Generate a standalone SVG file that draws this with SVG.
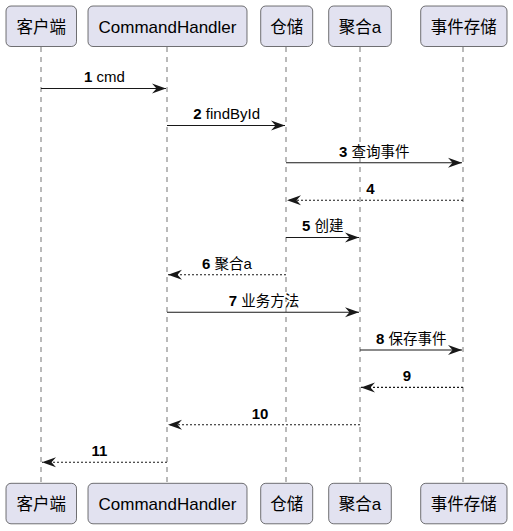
<svg xmlns="http://www.w3.org/2000/svg" width="513" height="531" viewBox="0 0 513 531">
<style>
.bg{fill:#FFFFFF}
.box{fill:#E2E2F0;stroke:#181818;stroke-width:0.6}
.life{stroke:#181818;stroke-width:0.6;stroke-dasharray:5,5;fill:none}
.pt{font-family:"Liberation Sans","Noto Sans CJK SC",sans-serif;font-size:17px;fill:#000;text-anchor:middle}
.cjk{font-family:"Noto Sans CJK SC",sans-serif;font-size:16.5px}
.msg{stroke:#181818;stroke-width:1.1;fill:none}
.ret{stroke:#181818;stroke-width:1.1;fill:none;stroke-dasharray:2,2}
.lbl{font-family:"Liberation Sans","Noto Sans CJK SC",sans-serif;font-size:15px;fill:#000;text-anchor:middle}
.lbl .n{font-weight:bold}
.lbl .c{font-family:"Noto Sans CJK SC",sans-serif;font-size:14.5px}
</style>
<defs>
<marker id="ah" markerWidth="16" markerHeight="12" refX="14" refY="6" orient="auto" markerUnits="userSpaceOnUse">
<polygon points="0,1 14,6 0,11 4.5,6" fill="#181818"/>
</marker>
</defs>
<rect class="bg" x="0" y="0" width="513" height="531"/>

<g id="lifelines">
<line class="life" x1="41" y1="47" x2="41" y2="483"/>
<line class="life" x1="167" y1="47" x2="167" y2="483"/>
<line class="life" x1="286" y1="47" x2="286" y2="483"/>
<line class="life" x1="360" y1="47" x2="360" y2="483"/>
<line class="life" x1="463" y1="47" x2="463" y2="483"/>
</g>

<g id="p-client">
<rect class="box" x="6" y="6" width="70.5" height="40.5" rx="5"/>
<text class="pt" x="41.2" y="33"><tspan class="cjk">客户端</tspan></text>
<rect class="box" x="6" y="483.3" width="70.5" height="40.5" rx="5"/>
<text class="pt" x="41.2" y="510.3"><tspan class="cjk">客户端</tspan></text>
</g>
<g id="p-handler">
<rect class="box" x="88" y="6" width="159" height="40.5" rx="5"/>
<text class="pt" x="167.5" y="33">CommandHandler</text>
<rect class="box" x="88" y="483.3" width="159" height="40.5" rx="5"/>
<text class="pt" x="167.5" y="510.3">CommandHandler</text>
</g>
<g id="p-repo">
<rect class="box" x="260.7" y="6" width="52" height="40.5" rx="5"/>
<text class="pt" x="286.7" y="33"><tspan class="cjk">仓储</tspan></text>
<rect class="box" x="260.7" y="483.3" width="52" height="40.5" rx="5"/>
<text class="pt" x="286.7" y="510.3"><tspan class="cjk">仓储</tspan></text>
</g>
<g id="p-agg">
<rect class="box" x="328.7" y="6" width="62.6" height="40.5" rx="5"/>
<text class="pt" x="360" y="33"><tspan class="cjk">聚合</tspan>a</text>
<rect class="box" x="328.7" y="483.3" width="62.6" height="40.5" rx="5"/>
<text class="pt" x="360" y="510.3"><tspan class="cjk">聚合</tspan>a</text>
</g>
<g id="p-store">
<rect class="box" x="420.7" y="6" width="86.3" height="40.5" rx="5"/>
<text class="pt" x="463.8" y="33"><tspan class="cjk">事件存储</tspan></text>
<rect class="box" x="420.7" y="483.3" width="86.3" height="40.5" rx="5"/>
<text class="pt" x="463.8" y="510.3"><tspan class="cjk">事件存储</tspan></text>
</g>

<g id="connectors">
<line class="msg" x1="41" y1="88.5" x2="166" y2="88.5" marker-end="url(#ah)"/>
<line class="msg" x1="167" y1="125.5" x2="285" y2="125.5" marker-end="url(#ah)"/>
<line class="msg" x1="286" y1="162.8" x2="462" y2="162.8" marker-end="url(#ah)"/>
<line class="ret" x1="463" y1="200.2" x2="287" y2="200.2" marker-end="url(#ah)"/>
<line class="msg" x1="286" y1="237.5" x2="359" y2="237.5" marker-end="url(#ah)"/>
<line class="ret" x1="286" y1="274.8" x2="168" y2="274.8" marker-end="url(#ah)"/>
<line class="msg" x1="167" y1="312.2" x2="359" y2="312.2" marker-end="url(#ah)"/>
<line class="msg" x1="360" y1="350" x2="462" y2="350" marker-end="url(#ah)"/>
<line class="ret" x1="463" y1="387.4" x2="361" y2="387.4" marker-end="url(#ah)"/>
<line class="ret" x1="360" y1="424.8" x2="168" y2="424.8" marker-end="url(#ah)"/>
<line class="ret" x1="167" y1="462.2" x2="42" y2="462.2" marker-end="url(#ah)"/>
</g>

<g id="labels">
<text class="lbl" x="104.5" y="82.3"><tspan class="n">1</tspan> cmd</text>
<text class="lbl" x="226.7" y="119.2"><tspan class="n">2</tspan> findById</text>
<text class="lbl" x="374.3" y="156.5"><tspan class="n">3</tspan> <tspan class="c">查询事件</tspan></text>
<text class="lbl" x="370.3" y="193.9"><tspan class="n">4</tspan></text>
<text class="lbl" x="322.7" y="231.2"><tspan class="n">5</tspan> <tspan class="c">创建</tspan></text>
<text class="lbl" x="227" y="268.5"><tspan class="n">6</tspan> <tspan class="c">聚合</tspan>a</text>
<text class="lbl" x="264" y="305.9"><tspan class="n">7</tspan> <tspan class="c">业务方法</tspan></text>
<text class="lbl" x="411.3" y="343.7"><tspan class="n">8</tspan> <tspan class="c">保存事件</tspan></text>
<text class="lbl" x="407" y="381.1"><tspan class="n">9</tspan></text>
<text class="lbl" x="260" y="418.5"><tspan class="n">10</tspan></text>
<text class="lbl" x="99.5" y="455.9"><tspan class="n">11</tspan></text>
</g>
</svg>
